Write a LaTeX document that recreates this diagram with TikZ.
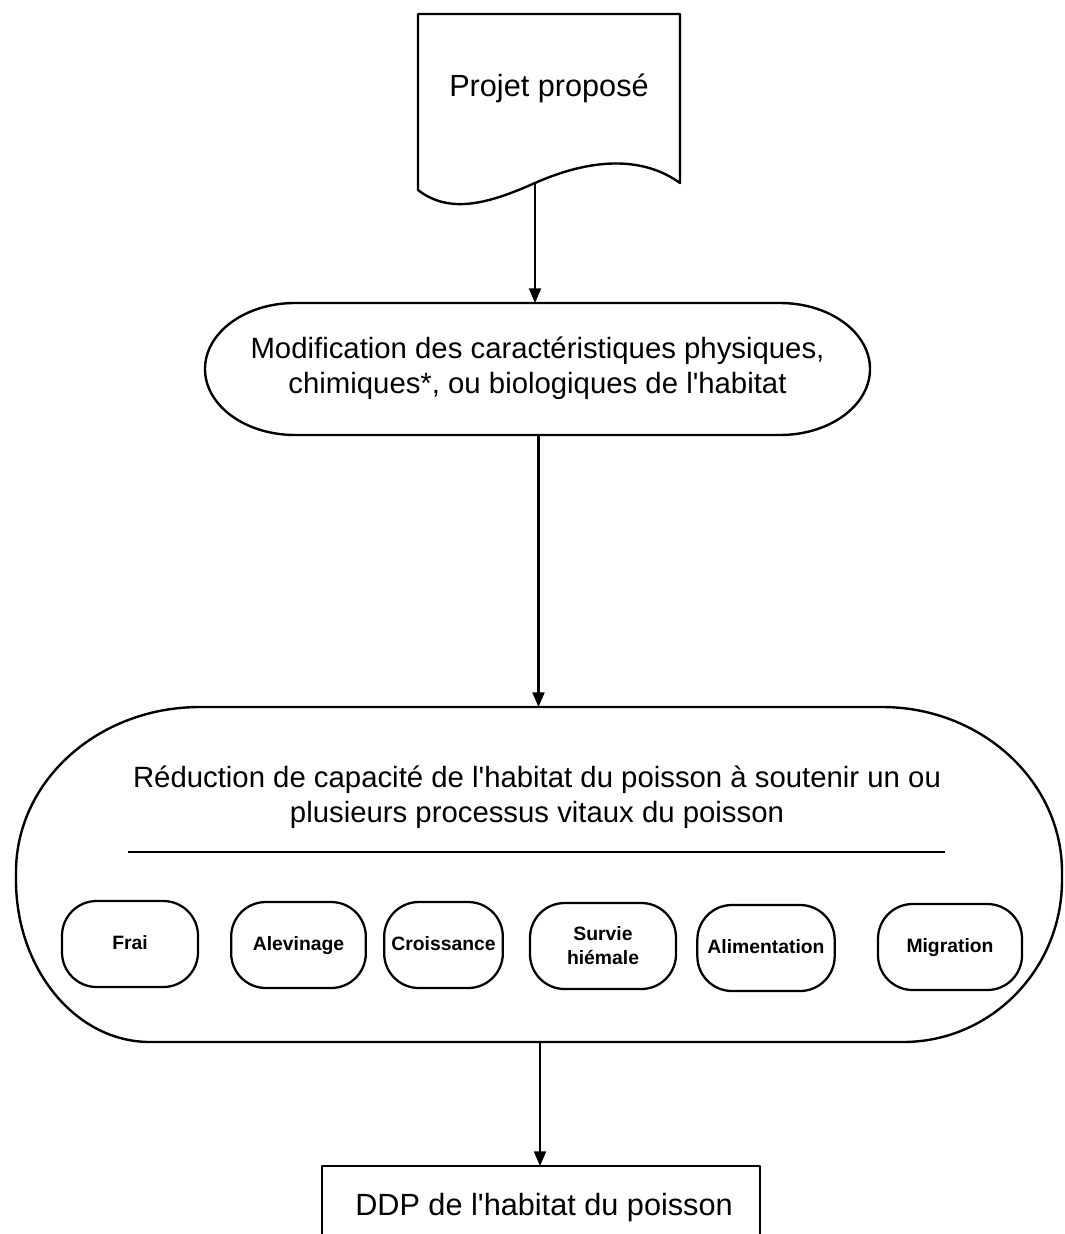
\documentclass[tikz,border=0pt]{standalone}
\usepackage{fontspec}
\setmainfont{Liberation Sans}
\usetikzlibrary{arrows.meta}
\newcommand{\apos}{\textquotesingle}
\begin{document}
\begin{tikzpicture}[x=0.75pt,y=-0.75pt,
  outline/.style={line width=1.8pt, line join=round},
  arr/.style={line width=1.6pt, -{Triangle[length=11pt,width=9pt]}},
  bigtext/.style={font=\fontsize{22}{26}\selectfont, align=center, inner sep=0pt},
  anchorbox/.style={inner sep=0pt, outer sep=0pt},
  procbox/.style={draw, line width=1.7pt, rounded corners=26pt, font=\bfseries\fontsize{14.5}{18}\selectfont, align=center, inner sep=0pt, minimum height=64.5pt},
  oneline/.style={text height=10.5pt, text depth=3pt}]
\useasboundingbox (0,0) rectangle (1064,1234);
\clip (0,0) rectangle (1064,1234);
\fill[white] (0,0) rectangle (1064,1234);

% Projet propose (document shape)
\draw[outline] (418,190) -- (418,14) -- (680,14) -- (680,183)
  .. controls (655,165) and (610,150) .. (535,183)
  .. controls (490,203) and (450,215) .. (418,190) -- cycle;
\coordinate (projb) at (535,183);
\node[font=\fontsize{23}{27}\selectfont, inner sep=0pt] (proj) at (549,88) {Projet proposé};

% Modification box
\node[anchorbox, minimum width=498.75pt, minimum height=99pt] (mod) at (538.5,369) {};
\draw[outline] (295,303) -- (780,303)
  .. controls (829.7,303) and (870,332.5) .. (870,369)
  .. controls (870,405.5) and (829.7,435) .. (780,435) -- (295,435)
  .. controls (245.3,435) and (205,405.5) .. (205,369)
  .. controls (205,332.5) and (245.3,303) .. (295,303) -- cycle;
\node[bigtext] (modt) at (537.5,368) {Modification des caractéristiques physiques,\\chimiques*, ou biologiques de l\apos habitat};

% Reduction box
\node[anchorbox, minimum width=784.5pt, minimum height=251.25pt] (red) at (540,874.5) {};
\draw[outline] (200,707) -- (882,707)
  .. controls (981,707) and (1062,781) .. (1062,872) -- (1062,880)
  .. controls (1062,969.5) and (990.8,1042) .. (903,1042) -- (150,1042)
  .. controls (76,1042) and (16,969.5) .. (16,880) -- (16,872)
  .. controls (16,781) and (98,707) .. (200,707) -- cycle;
\node[bigtext] (redt) at (537,797) {Réduction de capacité de l\apos habitat du poisson à soutenir un ou\\plusieurs processus vitaux du poisson};
\coordinate (divl) at (128,852);
\coordinate (divr) at (945,852);
\draw[line width=1.5pt] (divl) -- (divr);

% process boxes
\node[procbox, oneline, minimum width=102pt] (frai) at (130,944) {Frai};
\node[procbox, oneline, minimum width=101pt] (alev) at (298.5,945) {Alevinage};
\node[procbox, oneline, minimum width=89pt] (crois) at (443.5,945) {Croissance};
\node[procbox, minimum width=109.5pt] (surv) at (603,946) {Survie\\hiémale};
\node[procbox, oneline, minimum width=103pt] (alim) at (766,948) {Alimentation};
\node[procbox, oneline, minimum width=108pt] (migr) at (950,947) {Migration};

% DDP box
\draw[outline] (322,1300) -- (322,1166) -- (760,1166) -- (760,1300);
\coordinate (ddptop) at (540,1166);
\node[font=\fontsize{23}{27}\selectfont, inner sep=0pt] (ddp) at (544,1208) {DDP de l\apos habitat du poisson};

% connectors
\draw[arr] (projb) -- (projb |- mod.north);
\draw[arr] (mod.south) -- (mod.south |- red.north);
\draw[arr] (red.south) -- (ddptop);
\end{tikzpicture}
\end{document}
